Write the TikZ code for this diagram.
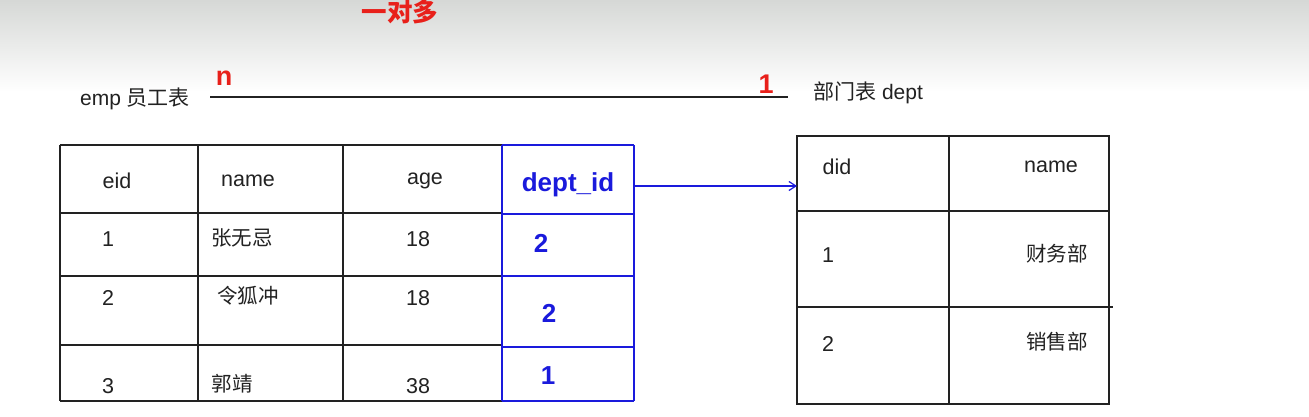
\documentclass[tikz,border=0pt]{standalone}
\usepackage{fontspec}
\setmainfont{Liberation Sans}
\newfontfamily\cjk{Noto Sans CJK SC}
\usetikzlibrary{arrows.meta,positioning}
\definecolor{slidegray}{HTML}{D6D8D6}
\definecolor{fkblue}{HTML}{1A1ADC}
\definecolor{relred}{HTML}{E8201A}
\definecolor{inkgray}{HTML}{222222}

\begin{document}
\begin{tikzpicture}[
    x=1pt, y=-1pt,
    cell/.style={inner sep=0pt, text=inkgray, font=\fontsize{21.5}{21.5}\selectfont},
    zh/.style={cell, font=\fontsize{20.5}{20.5}\selectfont\cjk},
    fk/.style={inner sep=0pt, text=fkblue, font=\fontsize{26}{26}\selectfont\bfseries},
    mult/.style={inner sep=0pt, text=relred, font=\fontsize{27}{27}\selectfont\bfseries},
    grid/.style={draw=inkgray, line width=1.3pt},
    fkgrid/.style={draw=fkblue, line width=1.3pt},
    arr/.style={-{Straight Barb[length=7pt,width=9pt]}, fkblue, line width=1.2pt}
  ]
  % background
  \useasboundingbox (0,0) rectangle (1309,416);
  \fill[white] (0,0) rectangle (1309,416);
  \shade[top color=slidegray, bottom color=white] (0,0) rectangle (1309,92);

  % relation line
  \node[mult, font=\fontsize{25.5}{25.5}\selectfont\bfseries\cjk] (title) at (400,12) {一对多};
  \node[cell, anchor=west, font=\fontsize{21}{21}\selectfont] (emp) at (80,99) {emp {\cjk 员工表}};
  \node[cell, anchor=west, font=\fontsize{21}{21}\selectfont] (dept) at (813,93) {{\cjk 部门表}\ dept};
  \coordinate (lstart) at (210,97);
  \coordinate (lend) at (788,97);
  \draw[draw=inkgray, line width=1.5pt] (lstart) -- (lend);
  \node[mult] (many) at (224,78) {n};
  \node[mult] (one) at (766,84) {1};

  % emp table
  \foreach \y in {145,213,276,345,401}
    \draw[grid] (60,\y) -- (502,\y);
  \foreach \x in {60,198,343,502}
    \draw[grid] (\x,145) -- (\x,401);
  \foreach \y in {145,214,276,347,401}
    \draw[fkgrid] (502,\y) -- (634,\y);
  \draw[fkgrid] (502,145) -- (502,401);
  \draw[fkgrid] (634,145) -- (634,401);

  \node[cell] (eid) at (117,181) {eid};
  \node[cell] (ename) at (248,181) {name};
  \node[cell] (age) at (425,181) {age};
  \node[fk] (deptid) at (568,185) {dept\_id};

  \node[cell] (e1) at (108,239) {1};
  \node[zh] (n1) at (242,238) {张无忌};
  \node[cell] (a1) at (418,239) {18};
  \node[fk] (d1) at (541,243) {2};

  \node[cell] (e2) at (108,298) {2};
  \node[zh] (n2) at (248,296) {令狐冲};
  \node[cell] (a2) at (418,298) {18};
  \node[fk] (d2) at (549,313) {2};

  \node[cell] (e3) at (108,386) {3};
  \node[zh] (n3) at (232,384) {郭靖};
  \node[cell] (a3) at (418,386) {38};
  \node[fk] (d3) at (548,376) {1};

  % dept table
  \draw[grid] (797,136) rectangle (1109,404);
  \draw[grid] (949,136) -- (949,404);
  \draw[grid] (797,211) -- (1109,211);
  \draw[grid] (797,307) -- (1113,307);

  \node[cell] (did) at (837,167) {did};
  \node[cell] (dname) at (1051,167) {name};
  \node[cell] (i1) at (828,255) {1};
  \node[zh] (m1) at (1057,254) {财务部};
  \node[cell] (i2) at (828,344) {2};
  \node[zh] (m2) at (1057,342) {销售部};

  % foreign key reference
  \coordinate (fkout) at (634,186);
  \coordinate (pkin) at (797,186);
  \draw[arr] (fkout) -- (pkin);
\end{tikzpicture}
\end{document}
